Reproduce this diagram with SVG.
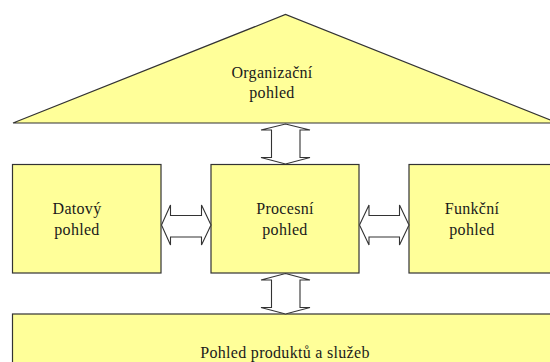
<svg xmlns="http://www.w3.org/2000/svg" width="550" height="362" viewBox="0 0 550 362">
  <style>
    .shape { fill: #FFFF99; stroke: #333333; stroke-width: 1.2; }
    .arrow { fill: #FFFFFF; stroke: #333333; stroke-width: 1.1; stroke-linejoin: miter; }
    .label { font-size: 16px; fill: #1a1a1a; text-anchor: middle; letter-spacing: 0.3px; }
  </style>
  <rect x="0" y="0" width="550" height="362" fill="#FFFFFF"/>

  <g font-family="Liberation Serif, DejaVu Serif, Times New Roman, serif">
  <!-- roof: organizational view -->
  <g id="organizacni">
    <polygon class="shape" points="13,123 285.5,14.5 558,123"/>
    <text class="label" x="272" y="78">Organizační</text>
    <text class="label" x="272" y="98">pohled</text>
  </g>

  <g id="datovy">
    <rect class="shape" x="12.5" y="164.5" width="148.5" height="108.5"/>
    <text class="label" x="77" y="214">Datový</text>
    <text class="label" x="77" y="235">pohled</text>
  </g>

  <g id="procesni">
    <rect class="shape" x="211" y="164.5" width="148" height="108.5"/>
    <text class="label" x="285" y="214">Procesní</text>
    <text class="label" x="285" y="235">pohled</text>
  </g>

  <g id="funkcni">
    <rect class="shape" x="409" y="164.5" width="148.5" height="108.5"/>
    <text class="label" x="472" y="214">Funkční</text>
    <text class="label" x="472" y="235">pohled</text>
  </g>

  <g id="produkty">
    <rect class="shape" x="12.5" y="314" width="550" height="60"/>
    <text class="label" x="285" y="358">Pohled produktů a služeb</text>
  </g>
  </g>

  <!-- double-headed block arrows between the views -->
  <g id="connectors">
    <polygon class="arrow" points="285.5,124 310,130 300,130 300,157.5 310,157.5 285.5,164 261,157.5 271.5,157.5 271.5,130 261,130"/>
    <polygon class="arrow" points="285.5,273.5 310,280 300,280 300,307.5 310,307.5 285.5,314 261,307.5 271.5,307.5 271.5,280 261,280"/>
    <polygon class="arrow" points="161.5,225 170.5,205 170.5,215.5 201.5,215.5 201.5,205 211,225 201.5,245 201.5,237 170.5,237 170.5,245"/>
    <polygon class="arrow" points="359.5,225 369,205 369,215.5 399.5,215.5 399.5,205 409,225 399.5,245 399.5,237 369,237 369,245"/>
  </g>
</svg>
